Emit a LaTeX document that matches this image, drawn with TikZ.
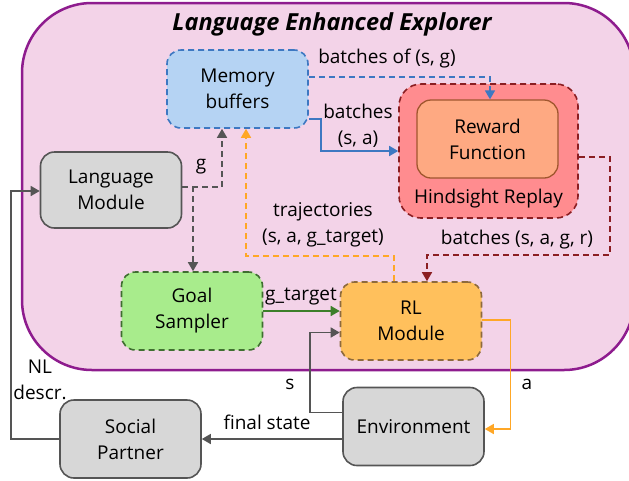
\documentclass[tikz,border=0pt]{standalone}
\usepackage{fontspec}
\setmainfont{Open Sans}
\usetikzlibrary{arrows.meta,calc}
\definecolor{framefill}{HTML}{F3D3E8}
\definecolor{framedraw}{HTML}{8E1C8E}
\definecolor{memfill}{HTML}{B5D3F3}
\definecolor{memdraw}{HTML}{3D78C2}
\definecolor{hindfill}{HTML}{FF8C8F}
\definecolor{hinddraw}{HTML}{8B1E22}
\definecolor{rewfill}{HTML}{FEA982}
\definecolor{rewdraw}{HTML}{A0562E}
\definecolor{grayfill}{HTML}{D7D7D7}
\definecolor{graydraw}{HTML}{555555}
\definecolor{goalfill}{HTML}{A8EC8C}
\definecolor{goaldraw}{HTML}{3F6E30}
\definecolor{rlfill}{HTML}{FFC05C}
\definecolor{rldraw}{HTML}{8E6A3C}
\definecolor{orangeln}{HTML}{FFA726}
\definecolor{greenln}{HTML}{3C7F2A}
\tikzset{
  box/.style={rounded corners=14pt, line width=1.6pt, align=center, inner sep=0pt,
    minimum width=141pt, minimum height=78pt, font=\fontsize{19}{26}\selectfont},
  dsh/.style={dash pattern=on 6pt off 4pt},
  conn/.style={line width=1.6pt, -{Triangle[length=9pt,width=10pt]}},
  lbl/.style={font=\fontsize{19}{26}\selectfont, align=center, inner sep=0pt},
}
\begin{document}
\begin{tikzpicture}[x=1pt,y=-1pt]
\useasboundingbox (0,0) rectangle (629,480);
\begin{scope}
\clip (0,0) rectangle (629,480);
\draw[framedraw, fill=framefill, line width=2.5pt, rounded corners=70pt] (22,3) rectangle (634,370);
\end{scope}
\node[font=\fontsize{23.5}{28}\selectfont\bfseries\itshape] (title) at (332,24) {Language Enhanced Explorer};

\node[box, dsh, draw=memdraw, fill=memfill] (mem) at (237.5,89) {Memory\\buffers};
\node[box, dsh, draw=hinddraw, fill=hindfill, minimum width=179pt, minimum height=134pt, rounded corners=22pt] (hind) at (488.5,151) {};
\node[box, draw=rewdraw, fill=rewfill, line width=1.3pt] (rew) at (487.5,139) {Reward\\Function};
\node[lbl] (hindlbl) at (488.5,199) {Hindsight Replay};
\node[box, draw=graydraw, fill=grayfill, minimum height=76pt] (lang) at (111,190) {Language\\Module};
\node[box, dsh, draw=goaldraw, fill=goalfill] (goal) at (192,311) {Goal\\Sampler};
\node[box, dsh, draw=rldraw, fill=rlfill, minimum width=141pt] (rl) at (411,321) {RL\\Module};
\node[box, draw=graydraw, fill=grayfill] (env) at (413.5,426.5) {Environment};
\node[box, draw=graydraw, fill=grayfill] (soc) at (130.5,439) {Social\\Partner};

% memory -> reward (dashed blue)
\draw[conn, dsh, memdraw] ([yshift=12pt]mem.east) -| ([xshift=2.5pt]rew.north);
\node[lbl] (l1) at (387,59) {batches of (s, g)};
% memory -> hindsight (solid blue)
\draw[conn, memdraw] ([yshift=-30pt]mem.east) -- ++(12,0) |- (hind.west);
\node[lbl] (l2) at (358,126) {batches\\(s, a)};
% language -> memory, goal (gray dashed)
\draw[conn, dsh, graydraw] ([yshift=3pt]lang.east) -| ([xshift=-15.5pt]mem.south);
\draw[conn, dsh, graydraw] ([yshift=3pt]lang.east) -| ([xshift=1pt]goal.north);
\node[lbl] (l3) at (201,167) {g};
% rl -> memory (orange dashed)
\draw[conn, dsh, orangeln] ([xshift=-17pt]rl.north) -- ++(0,-25) -| ([xshift=8.5pt]mem.south);
\node[lbl] (l4) at (323,225) {trajectories\\(s, a, g\_target)};
% hindsight -> rl (dark red dashed)
\draw[conn, dsh, hinddraw] ([yshift=-6pt]hind.east) -- ++(31,0) -- ++(0,98) -| ([xshift=16pt]rl.north);
\node[lbl] (l5) at (517,240) {batches (s, a, g, r)};
% goal -> rl (green)
\draw[conn, greenln] ([yshift=0pt]goal.east) -- (goal.east -| rl.west);
\node[lbl] (l6) at (301,297) {g\_target};
% env -> rl (gray)
\draw[conn, graydraw] ([yshift=14pt]env.west) -- ++(-32,0) |- ([yshift=-11.5pt]rl.west);
\node[lbl] (l7) at (290,384) {s};
% rl -> env (orange)
\draw[conn, orangeln] ([yshift=1pt]rl.east) -- ++(28,0) |- ([yshift=-2.5pt]env.east);
\node[lbl] (l8) at (527,384) {a};
% env -> social
\draw[conn, graydraw] (env.west |- soc.east) -- (soc.east);
\node[lbl] (l9) at (267,422) {final state};
% social -> language
\draw[conn, graydraw] (soc.west) -- ++(-48,0) |- ([yshift=-1pt]lang.west);
\node[lbl] (l10) at (40,380) {NL\\descr.};
\end{tikzpicture}
\end{document}
